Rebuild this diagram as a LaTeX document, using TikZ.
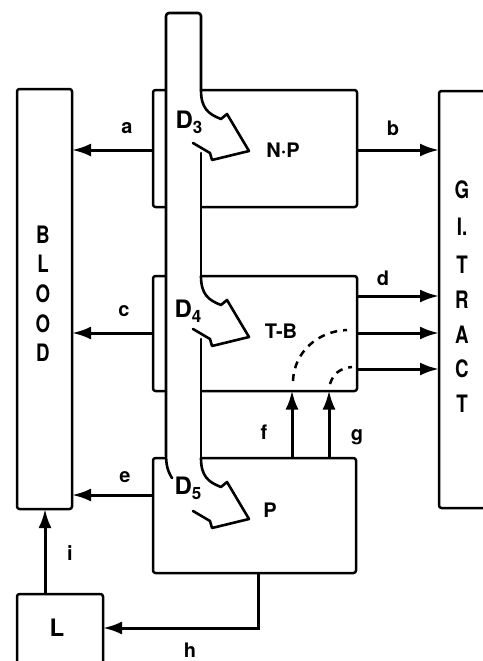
\documentclass[tikz,border=0pt]{standalone}
\usepackage{fontspec}
\setmainfont{TeX Gyre Heros}
\newfontfamily\condfont[FakeStretch=0.78]{TeX Gyre Heros}
\usetikzlibrary{arrows.meta}
\begin{document}
\begin{tikzpicture}[x=1pt,y=-1pt,
  boxline/.style={line width=2.5pt, line join=round, rounded corners=2.5pt},
  tube/.style={line width=2.6pt, line join=round, line cap=round},
  arr/.style={line width=3pt, -{Latex[length=19pt,width=13pt]}},
  dashline/.style={line width=2.5pt, dash pattern=on 7pt off 6pt},
  area/.style={inner sep=0pt, outer sep=0pt},
  lab/.style={font=\fontsize{20}{20}\selectfont\bfseries, inner sep=0pt},
  letter/.style={font=\condfont\fontsize{24}{24}\selectfont\bfseries, inner sep=0pt},
  dlab/.style={font=\fontsize{24}{24}\selectfont\bfseries, inner sep=0pt},
  mlab/.style={font=\fontsize{20}{20}\selectfont\bfseries, inner sep=0pt}]
\useasboundingbox (0,0) rectangle (482,661);
% main boxes
\node[boxline, draw, area, minimum width=55pt, minimum height=420pt] (blood) at (44.5,299) {};
\node[boxline, draw, area, minimum width=70pt, minimum height=417pt] (gi) at (474,299.5) {};
\node[boxline, draw, area, minimum width=86pt, minimum height=100pt] (L) at (60,644) {};
\node[area, minimum width=204pt, minimum height=117pt] (np) at (255,150) {};
\node[area, minimum width=204pt, minimum height=115pt] (tb) at (255,333) {};
\node[area, minimum width=203pt, minimum height=115pt] (p) at (254.5,515.5) {};
% compartment outlines
\draw[boxline] (166,90) -- (153,90) -- (153,207) -- (166,207);
\draw[boxline] (201,90) -- (357,90) -- (357,207) -- (201,207);
\draw[boxline] (166,276) -- (153,276) -- (153,391) -- (166,391);
\draw[boxline] (201,276) -- (357,276) -- (357,391) -- (201,391);
\draw[boxline] (166,458) -- (153,458) -- (153,573) -- (356,573) -- (356,458) -- (201,458);
% tube
\draw[tube] (172,478) .. controls (167,470) and (166,464) .. (166,452) [rounded corners=3pt] -- (166,13) -- (201,13) [sharp corners] -- (201,90);
\draw[tube] (201,153) -- (201,276);
\draw[tube] (201,339) -- (201,458);
\foreach \T in {90,276,458} {
  \draw[tube] (201,\T) .. controls (201,\T+18) and (208,\T+24) .. (221,\T+29) -- (227,\T+24) -- (249,\T+61) -- (212,\T+70) -- (210,\T+63) -- (193,\T+53);
}
% compartment letters
\foreach \ch/\yy [count=\k] in {B/235,L/264,O/294,O/324,D/353} {
  \node[letter] (bl\k) at (43,\yy) {\ch};
}
\foreach \ch/\yy [count=\k] in {G/190,I./227,T/265,R/300,A/335,C/369,T/404} {
  \node[letter] (gl\k) at (462,\yy) {\ch};
}
\node[dlab] (d3) at (189,122) {D\raisebox{-5pt}{\fontsize{17}{17}\selectfont 3}};
\node[dlab] (d4) at (188,311) {D\raisebox{-5pt}{\fontsize{17}{17}\selectfont 4}};
\node[dlab] (d5) at (188,488) {D\raisebox{-5pt}{\fontsize{17}{17}\selectfont 5}};
\node[mlab] (nptxt) at (283,150) {N·P};
\node[mlab] (tbtxt) at (281,331) {T-B};
\node[mlab] (ptxt) at (270,510) {P};
\node[dlab] (ltxt) at (57,628) {L};
% connectors
\draw[arr] (np.west) -- (blood.east |- np.west);
\draw[arr] (np.east) -- (gi.west |- np.east);
\draw[arr] (tb.west) -- (blood.east |- tb.west);
\draw[arr] (tb.east |- 0,296) -- (gi.west |- 0,296);
\draw[arr] (tb.east) -- (gi.west |- tb.east);
\draw[arr] (tb.east |- 0,369) -- (gi.west |- 0,369);
\draw[arr] (p.west |- 0,495) -- (blood.east |- 0,495);
\draw[arr] (p.north -| 292,0) -- (tb.south -| 292,0);
\draw[arr] (p.north -| 329,0) -- (tb.south -| 329,0);
\draw[arr] (p.south -| 258,0) |- (L.east |- 0,628);
\draw[arr] (L.north -| 45,0) -- (blood.south -| 45,0);
\draw[dashline] (293,381) .. controls (294,352) and (318,331) .. (347,330);
\draw[dashline] (330,384) .. controls (333,374) and (340,368) .. (352,367);
% labels
\node[lab] (la) at (127,128) {a};
\node[lab] (lb) at (393,128) {b};
\node[lab] (lc) at (124,311) {c};
\node[lab] (ld) at (383,278) {d};
\node[lab] (le) at (125,477) {e};
\node[lab] (lf) at (264,432) {f};
\node[lab] (lg) at (357,437) {g};
\node[lab] (lh) at (190,650) {h};
\node[lab] (li) at (70,553) {i};
\end{tikzpicture}
\end{document}
